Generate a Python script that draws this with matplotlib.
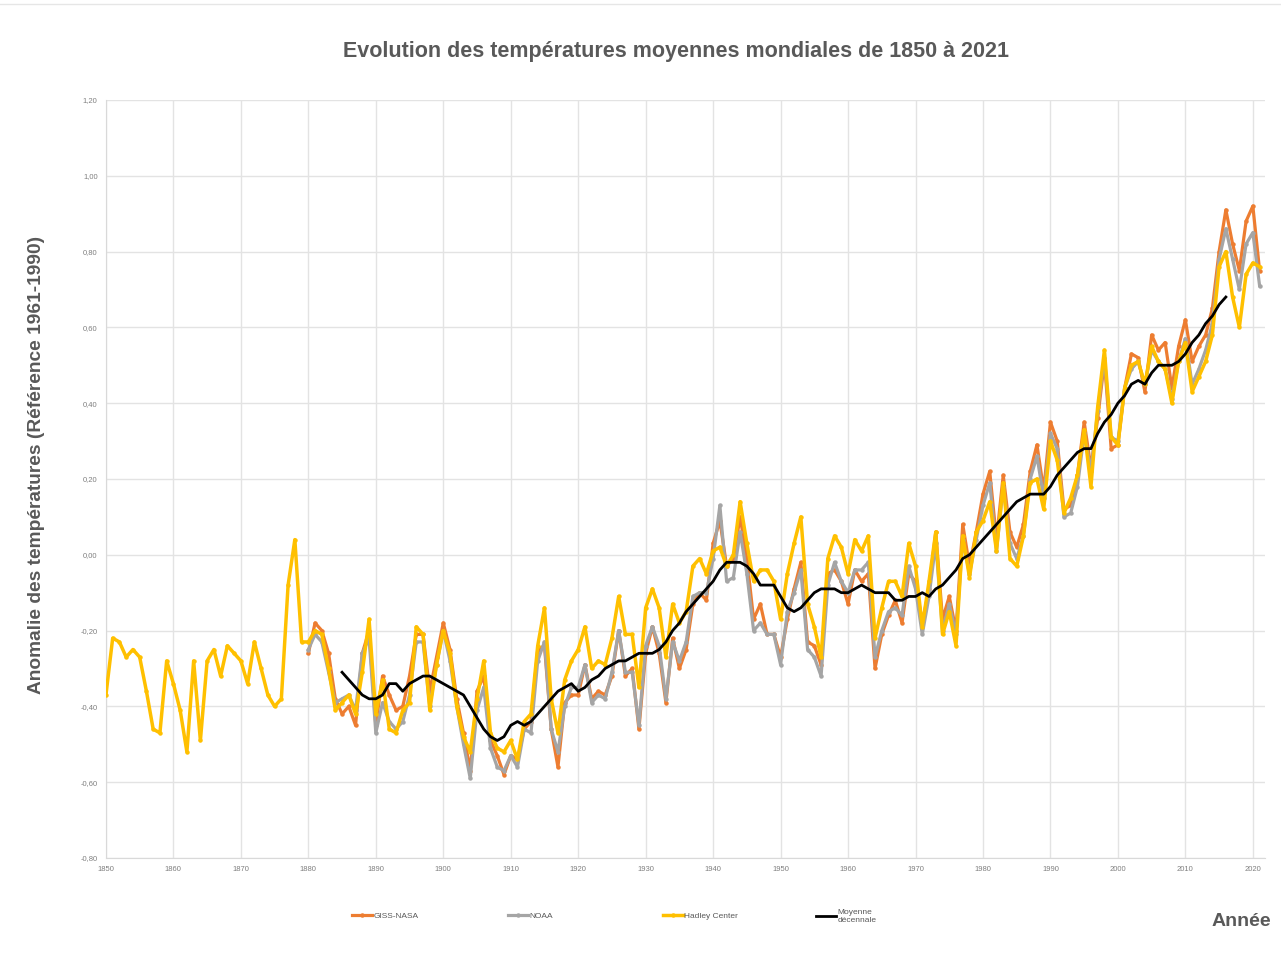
import numpy as np
import matplotlib
matplotlib.use('Agg')
import matplotlib.pyplot as plt
from matplotlib.lines import Line2D

plt.rcParams['font.family'] = ['Liberation Sans', 'DejaVu Sans']

# annees
years_had = list(range(1850, 2022))
years_giss = list(range(1880, 2022))
years_noaa = list(range(1880, 2022))
years_moy = list(range(1885, 2017))

# Hadley Center (reference 1961-1990)
hadley = [-0.37, -0.22, -0.23, -0.27, -0.25, -0.27, -0.36, -0.46, -0.47, -0.28,
          -0.34, -0.41, -0.52, -0.28, -0.49, -0.28, -0.25, -0.32, -0.24, -0.26,
          -0.28, -0.34, -0.23, -0.30, -0.37, -0.40, -0.38, -0.08, 0.04, -0.23,
          -0.23, -0.20, -0.21, -0.30, -0.41, -0.39, -0.37, -0.42, -0.31, -0.17,
          -0.42, -0.33, -0.46, -0.47, -0.41, -0.39, -0.19, -0.21, -0.41, -0.29,
          -0.20, -0.26, -0.40, -0.48, -0.52, -0.38, -0.28, -0.47, -0.51, -0.52,
          -0.49, -0.54, -0.44, -0.42, -0.24, -0.14, -0.38, -0.47, -0.33, -0.28,
          -0.25, -0.19, -0.30, -0.28, -0.29, -0.22, -0.11, -0.21, -0.21, -0.35,
          -0.14, -0.09, -0.14, -0.27, -0.13, -0.18, -0.15, -0.03, -0.01, -0.05,
          0.01, 0.02, -0.03, 0.00, 0.14, 0.03, -0.07, -0.04, -0.04, -0.07,
          -0.17, -0.05, 0.03, 0.10, -0.13, -0.19, -0.27, -0.01, 0.05, 0.02,
          -0.05, 0.04, 0.01, 0.05, -0.22, -0.14, -0.07, -0.07, -0.11, 0.03,
          -0.03, -0.19, -0.07, 0.06, -0.21, -0.15, -0.24, 0.05, -0.06, 0.06,
          0.09, 0.14, 0.01, 0.19, -0.01, -0.03, 0.05, 0.19, 0.20, 0.12,
          0.30, 0.25, 0.11, 0.15, 0.21, 0.33, 0.18, 0.39, 0.54, 0.31,
          0.29, 0.44, 0.50, 0.51, 0.45, 0.55, 0.51, 0.49, 0.40, 0.51,
          0.56, 0.43, 0.47, 0.51, 0.58, 0.76, 0.80, 0.68, 0.60, 0.74,
          0.77, 0.76]

# GISS-NASA
giss = [-0.26, -0.18, -0.20, -0.26, -0.38, -0.42, -0.40, -0.45, -0.26, -0.20,
        -0.45, -0.32, -0.37, -0.41, -0.40, -0.32, -0.21, -0.21, -0.36, -0.27,
        -0.18, -0.25, -0.38, -0.47, -0.57, -0.36, -0.32, -0.49, -0.53, -0.58,
        -0.53, -0.54, -0.46, -0.44, -0.25, -0.24, -0.46, -0.56, -0.39, -0.37,
        -0.37, -0.29, -0.38, -0.36, -0.37, -0.32, -0.20, -0.32, -0.30, -0.46,
        -0.26, -0.19, -0.26, -0.39, -0.22, -0.30, -0.25, -0.13, -0.10, -0.12,
        0.03, 0.09, -0.03, -0.01, 0.10, -0.01, -0.17, -0.13, -0.21, -0.21,
        -0.27, -0.17, -0.09, -0.02, -0.23, -0.24, -0.29, -0.05, -0.04, -0.07,
        -0.13, -0.04, -0.07, -0.05, -0.30, -0.21, -0.16, -0.12, -0.18, -0.05,
        -0.07, -0.18, -0.09, 0.06, -0.17, -0.11, -0.20, 0.08, -0.03, 0.06,
        0.16, 0.22, 0.04, 0.21, 0.06, 0.02, 0.08, 0.22, 0.29, 0.17,
        0.35, 0.30, 0.12, 0.13, 0.21, 0.35, 0.23, 0.36, 0.51, 0.28,
        0.29, 0.44, 0.53, 0.52, 0.43, 0.58, 0.54, 0.56, 0.44, 0.55,
        0.62, 0.51, 0.55, 0.58, 0.65, 0.80, 0.91, 0.82, 0.75, 0.88,
        0.92, 0.75]

# NOAA
noaa = [-0.25, -0.21, -0.23, -0.31, -0.39, -0.38, -0.37, -0.41, -0.26, -0.22,
        -0.47, -0.39, -0.44, -0.46, -0.44, -0.37, -0.23, -0.23, -0.40, -0.29,
        -0.20, -0.28, -0.40, -0.50, -0.59, -0.41, -0.35, -0.51, -0.56, -0.57,
        -0.53, -0.56, -0.46, -0.47, -0.28, -0.23, -0.46, -0.52, -0.40, -0.35,
        -0.35, -0.29, -0.39, -0.37, -0.38, -0.31, -0.20, -0.31, -0.31, -0.45,
        -0.24, -0.19, -0.24, -0.38, -0.23, -0.28, -0.23, -0.11, -0.10, -0.10,
        -0.01, 0.13, -0.07, -0.06, 0.06, -0.05, -0.20, -0.18, -0.21, -0.21,
        -0.29, -0.15, -0.10, -0.04, -0.25, -0.27, -0.32, -0.08, -0.02, -0.07,
        -0.10, -0.04, -0.04, -0.02, -0.27, -0.20, -0.15, -0.14, -0.16, -0.03,
        -0.09, -0.21, -0.11, 0.03, -0.20, -0.13, -0.21, 0.04, -0.05, 0.04,
        0.13, 0.19, 0.01, 0.18, 0.03, -0.01, 0.05, 0.20, 0.26, 0.15,
        0.32, 0.28, 0.10, 0.11, 0.18, 0.32, 0.22, 0.38, 0.52, 0.31,
        0.30, 0.44, 0.49, 0.51, 0.45, 0.54, 0.51, 0.49, 0.41, 0.51,
        0.57, 0.45, 0.49, 0.54, 0.61, 0.78, 0.86, 0.78, 0.70, 0.82,
        0.85, 0.71]

# Moyenne decennale
moyenne = [-0.31, -0.33, -0.35, -0.37, -0.38, -0.38, -0.37, -0.34, -0.34, -0.36,
           -0.34, -0.33, -0.32, -0.32, -0.33, -0.34, -0.35, -0.36, -0.37, -0.40,
           -0.43, -0.46, -0.48, -0.49, -0.48, -0.45, -0.44, -0.45, -0.44, -0.42,
           -0.40, -0.38, -0.36, -0.35, -0.34, -0.36, -0.35, -0.33, -0.32, -0.30,
           -0.29, -0.28, -0.28, -0.27, -0.26, -0.26, -0.26, -0.25, -0.23, -0.20,
           -0.18, -0.15, -0.13, -0.11, -0.09, -0.07, -0.04, -0.02, -0.02, -0.02,
           -0.03, -0.05, -0.08, -0.08, -0.08, -0.11, -0.14, -0.15, -0.14, -0.12,
           -0.10, -0.09, -0.09, -0.09, -0.10, -0.10, -0.09, -0.08, -0.09, -0.10,
           -0.10, -0.10, -0.12, -0.12, -0.11, -0.11, -0.10, -0.11, -0.09, -0.08,
           -0.06, -0.04, -0.01, 0.00, 0.02, 0.04, 0.06, 0.08, 0.10, 0.12,
           0.14, 0.15, 0.16, 0.16, 0.16, 0.18, 0.21, 0.23, 0.25, 0.27,
           0.28, 0.28, 0.32, 0.35, 0.37, 0.40, 0.42, 0.45, 0.46, 0.45,
           0.48, 0.50, 0.50, 0.50, 0.51, 0.53, 0.56, 0.58, 0.61, 0.63,
           0.66, 0.68]

y_ticks = [-0.8, -0.6, -0.4, -0.2, 0.0, 0.2, 0.4, 0.6, 0.8, 1.0, 1.2]
y_labels = ['-0,80', '-0,60', '-0,40', '-0,20', '0,00', '0,20', '0,40',
            '0,60', '0,80', '1,00', '1,20']
x_ticks = list(range(1850, 2021, 10))

fig = plt.figure(figsize=(12.81, 9.61), dpi=100)
ax = fig.add_axes([0.0827, 0.1072, 0.9048, 0.7888])

l1, = ax.plot(years_giss, giss, color='#ED7D31', lw=2.3, marker='o', ms=2.2, label='GISS-NASA', zorder=3)
l2, = ax.plot(years_noaa, noaa, color='#A5A5A5', lw=2.3, marker='o', ms=2.2, label='NOAA', zorder=4)
l3, = ax.plot(years_had, hadley, color='#FFC000', lw=2.5, marker='o', ms=2.2, label='Hadley Center', zorder=5)
l4, = ax.plot(years_moy, moyenne, color='black', lw=2.0, label='Moyenne\ndécennale', zorder=6)

ax.set_xlim(1850, 2021.8)
ax.set_ylim(-0.8, 1.2)
ax.set_yticks(y_ticks)
ax.set_yticklabels(y_labels)
ax.set_xticks(x_ticks)
ax.tick_params(axis='both', labelsize=5.5, colors='#7F7F7F', length=0, pad=6)
ax.grid(True, color='#E3E3E3', lw=1.0)
ax.set_axisbelow(True)
for s in ['top', 'right']:
    ax.spines[s].set_visible(False)
for s in ['left', 'bottom']:
    ax.spines[s].set_color('#D9D9D9')

fig.text(0.528, 1 - 51 / 961, 'Evolution des températures moyennes mondiales de 1850 à 2021',
         ha='center', va='center', fontsize=15.5, fontweight='bold', color='#595959')
fig.text(37 / 1281, 1 - 465 / 961, 'Anomalie des températures (Référence 1961-1990)',
         ha='center', va='center', rotation=90, fontsize=13.8, fontweight='bold', color='#595959')
fig.text(1241 / 1281, 1 - 921 / 961, 'Année', ha='center', va='center',
         fontsize=14, fontweight='bold', color='#595959')

# une legende par serie, placees comme dans Excel
leg_x = [352, 508, 663, 816]
for h, x0 in zip([l1, l2, l3, l4], leg_x):
    lg = fig.legend(handles=[h], loc='center left', bbox_to_anchor=(x0 / 1281, 1 - 916 / 961),
                    frameon=False, fontsize=6, handlelength=2.4, handletextpad=0.15,
                    borderpad=0, borderaxespad=0, labelcolor='#595959')

fig.add_artist(Line2D([0, 1], [0.996, 0.996], color='#E6E6E6', lw=1))

fig.savefig('out.png', dpi=100, facecolor='white')
